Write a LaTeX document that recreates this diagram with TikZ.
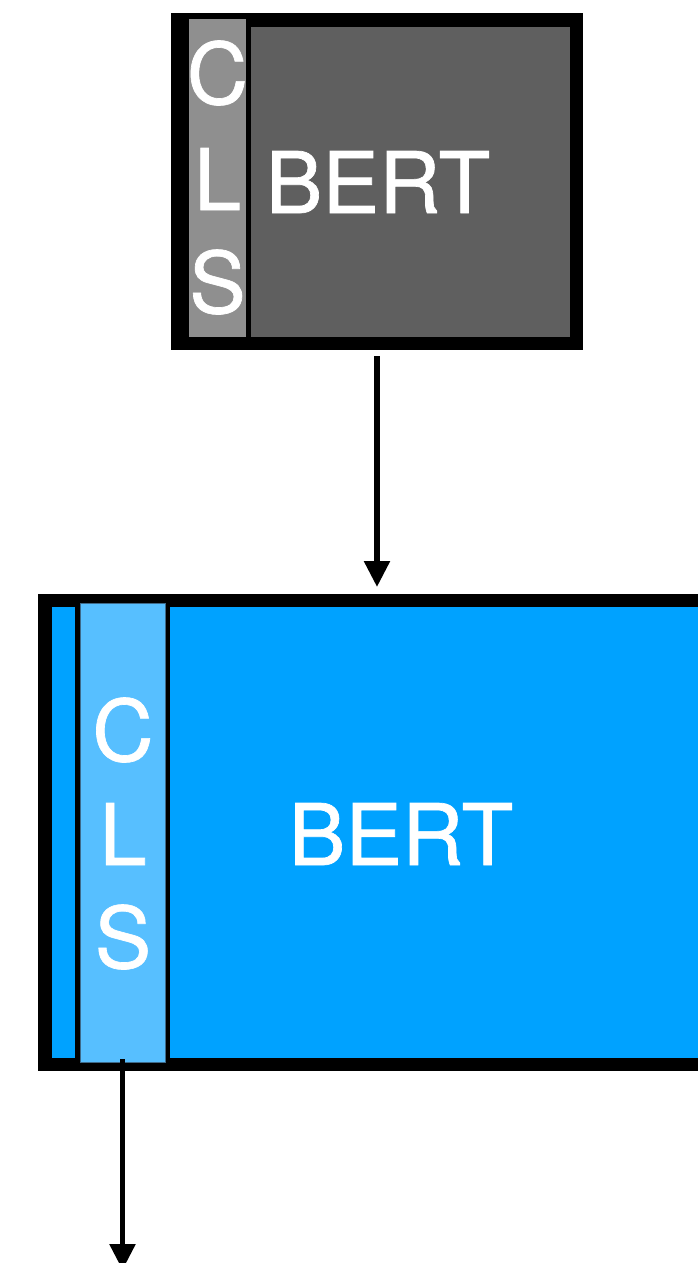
\documentclass[tikz,border=0pt]{standalone}
\usepackage{fontspec}
\setmainfont{TeX Gyre Heros}
\newfontfamily\labelfont{TeX Gyre Heros}[FakeBold=0.8]
\usetikzlibrary{arrows.meta}
\definecolor{bertdark}{HTML}{5F5F5F}
\definecolor{clsgray}{HTML}{8F8F8F}
\definecolor{bertblue}{HTML}{00A2FF}
\definecolor{clsblue}{HTML}{57BFFF}
\definecolor{clsedge}{HTML}{3E6A8A}
\begin{document}
\begin{tikzpicture}[x=1pt,y=-1pt,
  panel/.style={rectangle, draw=none, inner sep=0pt, outer sep=0pt, anchor=north west},
  letter/.style={text=white, inner sep=0pt, anchor=base, font=\labelfont\fontsize{85}{100}\selectfont},
  flow/.style={line width=5.5pt, -{Triangle[length=26pt,width=25pt]}}]
\useasboundingbox (0,0) rectangle (697,1263);

% upper model: grey frozen encoder
\node[panel, fill=black, minimum width=412pt, minimum height=337pt] (top) at (171,13) {};
\node[panel, fill=clsgray, minimum width=57pt, minimum height=318pt] (topcls) at (189,19) {};
\node[panel, fill=bertdark, minimum width=319pt, minimum height=310pt] (topbody) at (251,27) {};
\node[letter] (tc) at (217.5,104) {C};
\node[letter] (tl) at (217.5,210) {L};
\node[letter] (ts) at (217.5,313) {S};
\node[letter] (tbert) at (378,213) {BERT};

% lower model: blue encoder
\node[panel, fill=black, minimum width=690pt, minimum height=477pt] (bot) at (38,594) {};
\node[panel, fill=bertblue, minimum width=23pt, minimum height=451pt] (botleft) at (52,607) {};
\node[panel, fill=bertblue, minimum width=560pt, minimum height=451pt] (botbody) at (170,607) {};
\node[panel, fill=clsblue, draw=clsedge, line width=1pt, minimum width=85pt, minimum height=459pt] (botcls) at (80,603) {};
\node[letter] (bc) at (123,761) {C};
\node[letter] (bl) at (123,865) {L};
\node[letter] (bs) at (123,968) {S};
\node[letter] (bbert) at (401,865) {BERT};

% connectors
\coordinate (out) at (122.5,1270);
\draw[flow, shorten <=6pt, shorten >=7pt] (top.south) -- (top.south |- bot.north);
\draw[flow, shorten <=-3pt] (botcls.south) -- (out);
\end{tikzpicture}
\end{document}
